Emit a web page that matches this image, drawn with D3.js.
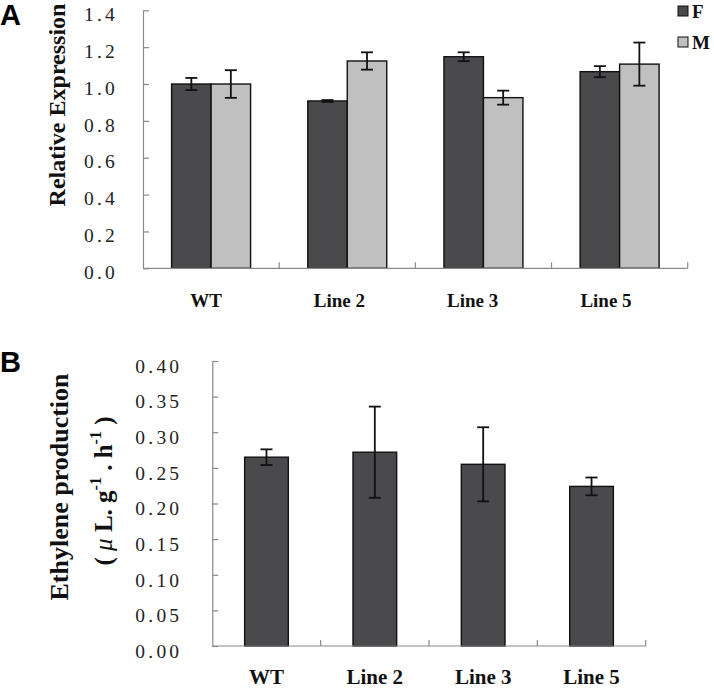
<!DOCTYPE html>
<html>
<head>
<meta charset="utf-8">
<script src="https://cdn.jsdelivr.net/npm/d3@7/dist/d3.min.js"></script>
<style>
  html, body { margin: 0; padding: 0; background: #fff; }
  svg { display: block; }
</style>
</head>
<body>
<svg id="chart" width="714" height="689"></svg>
<script>
// ---------------- DATA ----------------
const categories = ["WT", "Line 2", "Line 3", "Line 5"];
const seriesNames = ["F", "M"];
const exprF    = [1.00, 0.908, 1.148, 1.067];
const exprFErr = [0.033, 0.005, 0.024, 0.030];
const exprM    = [1.00, 1.125, 0.926, 1.108];
const exprMErr = [0.075, 0.047, 0.038, 0.117];
const ethylene    = [0.265, 0.272, 0.255, 0.224];
const ethyleneErr = [0.011, 0.064, 0.052, 0.0125];
const ticksA = [0, 0.2, 0.4, 0.6, 0.8, 1.0, 1.2, 1.4];
const ticksB = [0, 0.05, 0.10, 0.15, 0.20, 0.25, 0.30, 0.35, 0.40];

// ---------------- STYLE ----------------
const darkFill = "#4a4a4c";
const lightFill = "#c0c0c0";
const axisColor = "#8a8a8a";
const serif = "'Liberation Serif', 'Times New Roman', serif";
const sans = "'Liberation Sans', Arial, sans-serif";

const svg = d3.select("#chart");

function errorBar(g, cx, yTop, yBot, capW) {
  g.append("line").attr("x1", cx).attr("x2", cx).attr("y1", yTop).attr("y2", yBot)
    .attr("stroke", "#111").attr("stroke-width", 1.8);
  [yTop, yBot].forEach(yy => {
    g.append("line").attr("x1", cx - capW / 2).attr("x2", cx + capW / 2)
      .attr("y1", yy).attr("y2", yy).attr("stroke", "#111").attr("stroke-width", 1.8);
  });
}

function styleYAxis(g, shift) {
  g.select(".domain").attr("stroke", axisColor).attr("stroke-width", 1.2);
  g.selectAll(".tick line").attr("stroke", axisColor).attr("stroke-width", 1.2);
  g.selectAll(".tick text")
    .attr("font-family", serif).attr("font-size", 19.5).attr("fill", "#222")
    .attr("letter-spacing", "3.2px")
    .attr("transform", `translate(0,${shift})`);
}

// ================= PANEL A =================
{
  const left = 143, right = 687.7, top = 10.3, bottom = 268.3;
  const x0 = d3.scaleBand().domain(categories).range([left, right]).padding(0);
  const x1 = d3.scaleBand().domain(seriesNames).range([0, x0.bandwidth()])
    .paddingInner(0).paddingOuter(0.724);
  const y = d3.scaleLinear().domain([0, 1.4]).range([bottom, top]);

  const g = svg.append("g");

  const ya = g.append("g").attr("transform", `translate(${left},0)`)
    .call(d3.axisLeft(y).tickValues(ticksA).tickFormat(d3.format(".1f"))
      .tickSizeInner(-6).tickSizeOuter(0).tickPadding(25));
  styleYAxis(ya, 4);

  const vals = { F: exprF, M: exprM };
  const errs = { F: exprFErr, M: exprMErr };
  const fills = { F: darkFill, M: lightFill };
  seriesNames.forEach(s => {
    categories.forEach((c, i) => {
      const bx = x0(c) + x1(s);
      g.append("rect")
        .attr("x", bx).attr("y", y(vals[s][i]))
        .attr("width", x1.bandwidth()).attr("height", y(0) - y(vals[s][i]))
        .attr("fill", fills[s]).attr("stroke", "#111").attr("stroke-width", 1.4);
    });
  });
  seriesNames.forEach(s => {
    categories.forEach((c, i) => {
      const cx = x0(c) + x1(s) + x1.bandwidth() / 2;
      errorBar(g, cx, y(vals[s][i] + errs[s][i]), y(vals[s][i] - errs[s][i]), 12);
    });
  });

  g.append("line").attr("x1", left).attr("x2", right).attr("y1", bottom).attr("y2", bottom)
    .attr("stroke", axisColor).attr("stroke-width", 1.2);
  categories.forEach(c => {
    const tx = x0(c) + x0.bandwidth();
    g.append("line").attr("x1", tx).attr("x2", tx).attr("y1", bottom).attr("y2", bottom - 6)
      .attr("stroke", axisColor).attr("stroke-width", 1.2);
  });

  const xl = d3.scalePoint().domain(categories).range([206, 606]);
  categories.forEach(c => {
    g.append("text").attr("x", xl(c)).attr("y", 306.7).attr("text-anchor", "middle")
      .attr("font-family", serif).attr("font-weight", "bold").attr("font-size", 19)
      .attr("fill", "#111").text(c);
  });

  g.append("text").attr("transform", "translate(65,105) rotate(-90)")
    .attr("text-anchor", "middle").attr("font-family", serif).attr("font-weight", "bold")
    .attr("font-size", 24).attr("fill", "#111").text("Relative Expression");

  const legY = [6, 37];
  seriesNames.forEach((s, i) => {
    g.append("rect").attr("x", 678).attr("y", legY[i]).attr("width", 10).attr("height", 10)
      .attr("fill", fills[s]).attr("stroke", "#111").attr("stroke-width", 1);
    g.append("text").attr("x", 692).attr("y", legY[i] + 11.5)
      .attr("font-family", serif).attr("font-weight", "bold").attr("font-size", 19)
      .attr("fill", "#111").text(s);
  });

  g.append("text").attr("x", 0).attr("y", 25).attr("font-family", sans)
    .attr("font-weight", "bold").attr("font-size", 29).attr("fill", "#000").text("A");
}

// ================= PANEL B =================
{
  const left = 212.3, right = 645.7, top = 361, bottom = 646;
  const x0 = d3.scaleBand().domain(categories).range([left, right]).padding(0);
  const xb = d3.scaleBand().domain(categories).range([left, right])
    .paddingInner(0.597).paddingOuter(0.2985);
  const y = d3.scaleLinear().domain([0, 0.40]).range([bottom, top]);

  const g = svg.append("g");

  const ya = g.append("g").attr("transform", `translate(${left},0)`)
    .call(d3.axisLeft(y).tickValues(ticksB).tickFormat(d3.format(".2f"))
      .tickSizeInner(-6).tickSizeOuter(0).tickPadding(30));
  styleYAxis(ya, 5);

  categories.forEach((c, i) => {
    g.append("rect")
      .attr("x", xb(c)).attr("y", y(ethylene[i]))
      .attr("width", xb.bandwidth()).attr("height", y(0) - y(ethylene[i]))
      .attr("fill", darkFill).attr("stroke", "#111").attr("stroke-width", 1.4);
  });
  categories.forEach((c, i) => {
    const cx = xb(c) + xb.bandwidth() / 2;
    errorBar(g, cx, y(ethylene[i] + ethyleneErr[i]), y(ethylene[i] - ethyleneErr[i]), 12);
  });

  g.append("line").attr("x1", left).attr("x2", right).attr("y1", bottom).attr("y2", bottom)
    .attr("stroke", axisColor).attr("stroke-width", 1.2);
  categories.forEach(c => {
    const tx = x0(c) + x0.bandwidth();
    g.append("line").attr("x1", tx).attr("x2", tx).attr("y1", bottom).attr("y2", bottom - 6)
      .attr("stroke", axisColor).attr("stroke-width", 1.2);
  });

  categories.forEach(c => {
    g.append("text").attr("x", x0(c) + x0.bandwidth() / 2).attr("y", 684)
      .attr("text-anchor", "middle")
      .attr("font-family", serif).attr("font-weight", "bold").attr("font-size", 21)
      .attr("fill", "#111").text(c);
  });

  g.append("text").attr("transform", "translate(68,487) rotate(-90)")
    .attr("text-anchor", "middle").attr("font-family", serif).attr("font-weight", "bold")
    .attr("font-size", 26).attr("fill", "#111").text("Ethylene production");

  const t2 = g.append("text").attr("transform", "translate(112,491) rotate(-90)")
    .attr("text-anchor", "middle").attr("font-family", serif).attr("font-weight", "bold")
    .attr("font-size", 25).attr("fill", "#111");
  t2.append("tspan").text("( ");
  t2.append("tspan").attr("font-style", "italic").attr("font-weight", "normal").text("μ");
  t2.append("tspan").text(" L. g");
  t2.append("tspan").attr("font-size", 16).attr("dy", -11).text("-1");
  t2.append("tspan").attr("dy", 11).text(" . h");
  t2.append("tspan").attr("font-size", 16).attr("dy", -11).text("-1");
  t2.append("tspan").attr("dy", 11).text(" )");

  g.append("text").attr("x", 0).attr("y", 372).attr("font-family", sans)
    .attr("font-weight", "bold").attr("font-size", 29).attr("fill", "#000").text("B");
}
</script>
</body>
</html>
